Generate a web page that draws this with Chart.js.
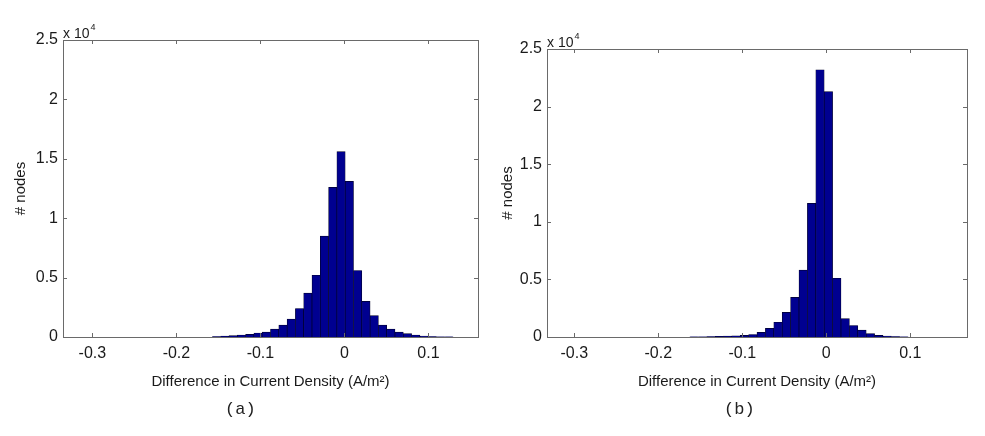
<!DOCTYPE html>
<html>
<head>
<meta charset="utf-8">
<script src="https://cdn.jsdelivr.net/npm/chart.js@4/dist/chart.umd.min.js"></script>
<style>
  body { margin: 0; background: #fff; }
  #wrap { position: relative; width: 985px; height: 436px; }
  canvas { position: absolute; top: 0; }
  .cap { position: absolute; top: 400px; font: 17px "Liberation Mono", monospace; color: #222; }
</style>
</head>
<body>
<div id="wrap">
  <canvas id="chartA" width="490" height="436" style="left:0"></canvas>
  <canvas id="chartB" width="495" height="436" style="left:490px"></canvas>
  <div class="cap" style="left:225px">(a)</div>
  <div class="cap" style="left:724px">(b)</div>
</div>
<script>
// histogram bins (50 bins each)
const binStartA = -0.335, binWidthA = 0.00988;
const binStartB = -0.3325, binWidthB = 0.01;

// counts per bin (# nodes)
const countsA = [
  0, 0, 0, 0, 0, 0, 0, 0, 0, 0,
  0, 0, 0, 0, 0, 0, 0, 0, 40, 70,
  110, 170, 230, 340, 420, 670, 1000, 1500, 2400, 3700,
  5200, 8500, 12600, 15600, 13100, 5600, 3000, 1800, 1000, 670,
  420, 280, 170, 80, 40, 20, 10, 0, 0, 0
];
const countsB = [
  0, 0, 0, 0, 0, 0, 0, 0, 0, 0,
  0, 0, 0, 0, 0, 0, 0, 10, 20, 30,
  50, 70, 100, 150, 220, 410, 750, 1280, 2140, 3450,
  5800, 11600, 23200, 21300, 5100, 1600, 1000, 600, 300, 150,
  80, 40, 20, 0, 0, 0, 0, 0, 0, 0
];

const xTicks = [-0.3, -0.2, -0.1, 0, 0.1];
const xTickLabels = ['-0.3', '-0.2', '-0.1', '0', '0.1'];
const yTickLabels = ['0', '0.5', '1', '1.5', '2', '2.5'];

Chart.defaults.font.family = '"Liberation Sans", Arial, sans-serif';
Chart.defaults.color = '#1a1a1a';

// box around the axes, inward ticks and the x 10^4 multiplier
const frame = {
  id: 'frame',
  afterDraw(chart) {
    const { ctx, chartArea: a, scales: { x, y } } = chart;
    ctx.save();
    ctx.strokeStyle = '#6a6a6a';
    ctx.lineWidth = 1;
    ctx.strokeRect(Math.round(a.left) + 0.5, Math.round(a.top) + 0.5, Math.round(a.width), Math.round(a.height));
    ctx.beginPath();
    x.ticks.forEach((t, i) => {
      const px = Math.round(x.getPixelForTick(i)) + 0.5;
      ctx.moveTo(px, a.bottom); ctx.lineTo(px, a.bottom - 4);
      ctx.moveTo(px, a.top); ctx.lineTo(px, a.top + 4);
    });
    y.ticks.forEach((t, i) => {
      const py = Math.round(y.getPixelForTick(i)) + 0.5;
      ctx.moveTo(a.left, py); ctx.lineTo(a.left + 4, py);
      ctx.moveTo(a.right, py); ctx.lineTo(a.right - 4, py);
    });
    ctx.stroke();

    ctx.fillStyle = '#1a1a1a';
    ctx.textBaseline = 'alphabetic';
    ctx.font = '14px "Liberation Sans", Arial, sans-serif';
    ctx.fillText('x 10', a.left, a.top - 2);
    const w = ctx.measureText('x 10').width;
    ctx.font = '9px "Liberation Sans", Arial, sans-serif';
    ctx.fillText('4', a.left + w + 1, a.top - 10);
    ctx.restore();
  }
};

function makeHist(id, start, width, counts, pad, yWidth) {
  const points = counts.map((c, i) => ({ x: start + width * (i + 0.5), y: c }));
  new Chart(document.getElementById(id).getContext('2d'), {
    type: 'bar',
    data: {
      datasets: [{
        data: points,
        backgroundColor: '#000090',
        borderColor: '#00002a',
        borderWidth: 0.7,
        barPercentage: 1,
        categoryPercentage: 1
      }]
    },
    options: {
      responsive: false,
      animation: false,
      layout: { padding: pad },
      plugins: { legend: { display: false }, tooltip: { enabled: false } },
      scales: {
        x: {
          type: 'linear',
          offset: false,
          min: start,
          max: start + width * counts.length,
          grid: { display: false, drawTicks: false },
          border: { display: false },
          afterBuildTicks: s => { s.ticks = xTicks.map(v => ({ value: v })); },
          afterFit: s => { s.height = 55; },
          ticks: {
            padding: 7,
            maxRotation: 0,
            font: { size: 16 },
            callback: (v, i) => xTickLabels[i]
          },
          title: {
            display: true,
            text: 'Difference in Current Density (A/m\u00b2)',
            font: { size: 15 },
            padding: { top: 2, bottom: 1 }
          }
        },
        y: {
          min: 0,
          max: 25000,
          grid: { display: false, drawTicks: false },
          border: { display: false },
          afterFit: s => { s.width = yWidth; },
          ticks: {
            stepSize: 5000,
            padding: 5,
            font: { size: 16 },
            callback: (v, i) => yTickLabels[i]
          },
          title: {
            display: true,
            text: '# nodes',
            font: { size: 15 },
            padding: 4
          }
        }
      }
    },
    plugins: [frame]
  });
}

makeHist('chartA', binStartA, binWidthA, countsA, { top: 40, right: 12, left: 8, bottom: 44 }, 55);
makeHist('chartB', binStartB, binWidthB, countsB, { top: 49, right: 18, left: 5, bottom: 44 }, 52);
</script>
</body>
</html>
